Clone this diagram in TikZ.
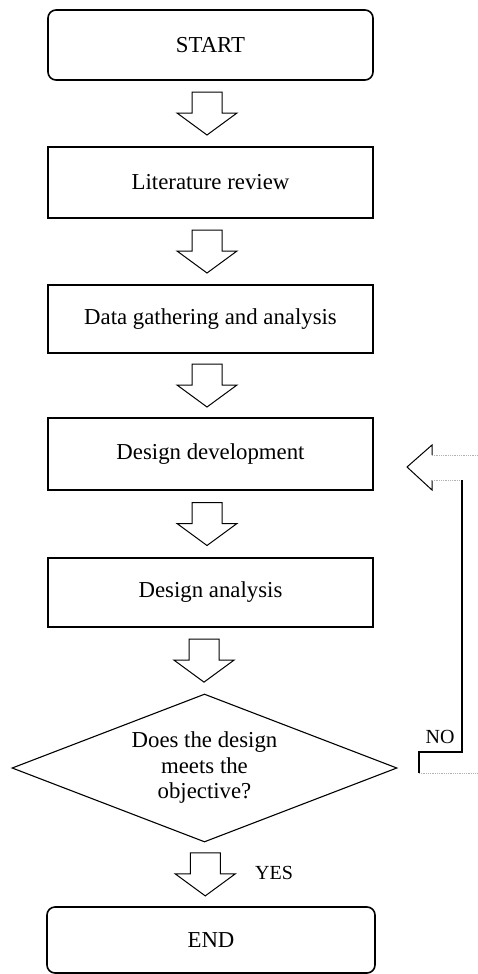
\documentclass[tikz,border=0pt]{standalone}
\usepackage{fontspec}
\setmainfont{Liberation Serif}
\usetikzlibrary{calc,shapes.geometric}

% Hollow block arrow pointing down, centred between two nodes
\newcommand{\flowarrow}[3][-3.5]{%
  \draw[blockarrow] ($(#2.south)!0.5!(#3.north)+(#1,0)$)
    ++(-15,-21.5) -- ++(30,0) -- ++(0,21) -- ++(15,0)
    -- ++(-30,22) -- ++(-30,-22) -- ++(15,0) -- cycle;}

\begin{document}
\begin{tikzpicture}[x=1pt,y=-1pt,
  every node/.style={font=\fontsize{22.8}{25.5}\selectfont, inner sep=0pt},
  stepbox/.style={draw, line width=1.6pt, minimum width=325pt},
  termbox/.style={stepbox, rounded corners=8pt},
  decision/.style={draw, diamond, line width=1.1pt, shape aspect=2.6,
    minimum width=385pt, minimum height=148pt, align=center},
  blockarrow/.style={draw, line width=1pt, line join=miter},
  smalllabel/.style={font=\fontsize{20}{22}\selectfont},
  loopline/.style={line width=2.2pt},
  faintline/.style={line width=0.8pt, gray!60, densely dotted}]

\useasboundingbox[fill=white] (0,0) rectangle (478,974);

% process steps
\node[termbox, minimum height=70pt] (start) at (210.5,45)    {START};
\node[stepbox, minimum height=71pt] (lit)   at (210.5,182.5) {Literature review};
\node[stepbox, minimum height=68pt] (data)  at (210.5,319)   {Data gathering and analysis};
\node[stepbox, minimum height=72pt] (dev)   at (210.5,454)   {Design development};
\node[stepbox, minimum height=69pt] (ana)   at (210.5,592.5) {Design analysis};
\node[decision] (dia) at (204.5,768) {Does the design\\meets the\\objective?};
\node[termbox, minimum width=328pt, minimum height=66pt] (end) at (211,940) {END};

% downward block arrows
\flowarrow{start}{lit}
\flowarrow{lit}{data}
\flowarrow{data}{dev}
\flowarrow{dev}{ana}
\flowarrow{ana}{dia}
\flowarrow[-2.5]{dia}{end}

% labels
\node[smalllabel] (yes) at (274,873) {YES};
\node[smalllabel] (no)  at (440,737) {NO};

% bent return arrow on the right
\coordinate (notip) at (407,467);
\coordinate (nohi)  at (432,445);
\coordinate (nolo)  at (432,490);
\coordinate (sht)   at (432,455);
\coordinate (shb)   at (432,480);
\coordinate (rtop)  at (462,480);
\coordinate (rbot)  at (462,752);
\coordinate (inner) at (419,752);
\coordinate (base)  at (419,773);
\draw[line width=1pt, line join=miter] (sht) -- (nohi) -- (notip) -- (nolo) -- (shb);
\draw[faintline] (sht) -- (478,455);
\draw[faintline] (shb) -- (rtop);
\draw[loopline, line join=miter] (rtop) -- (rbot) -- (inner) -- (base);
\draw[faintline] (base) -- (478,773);

\end{tikzpicture}
\end{document}
